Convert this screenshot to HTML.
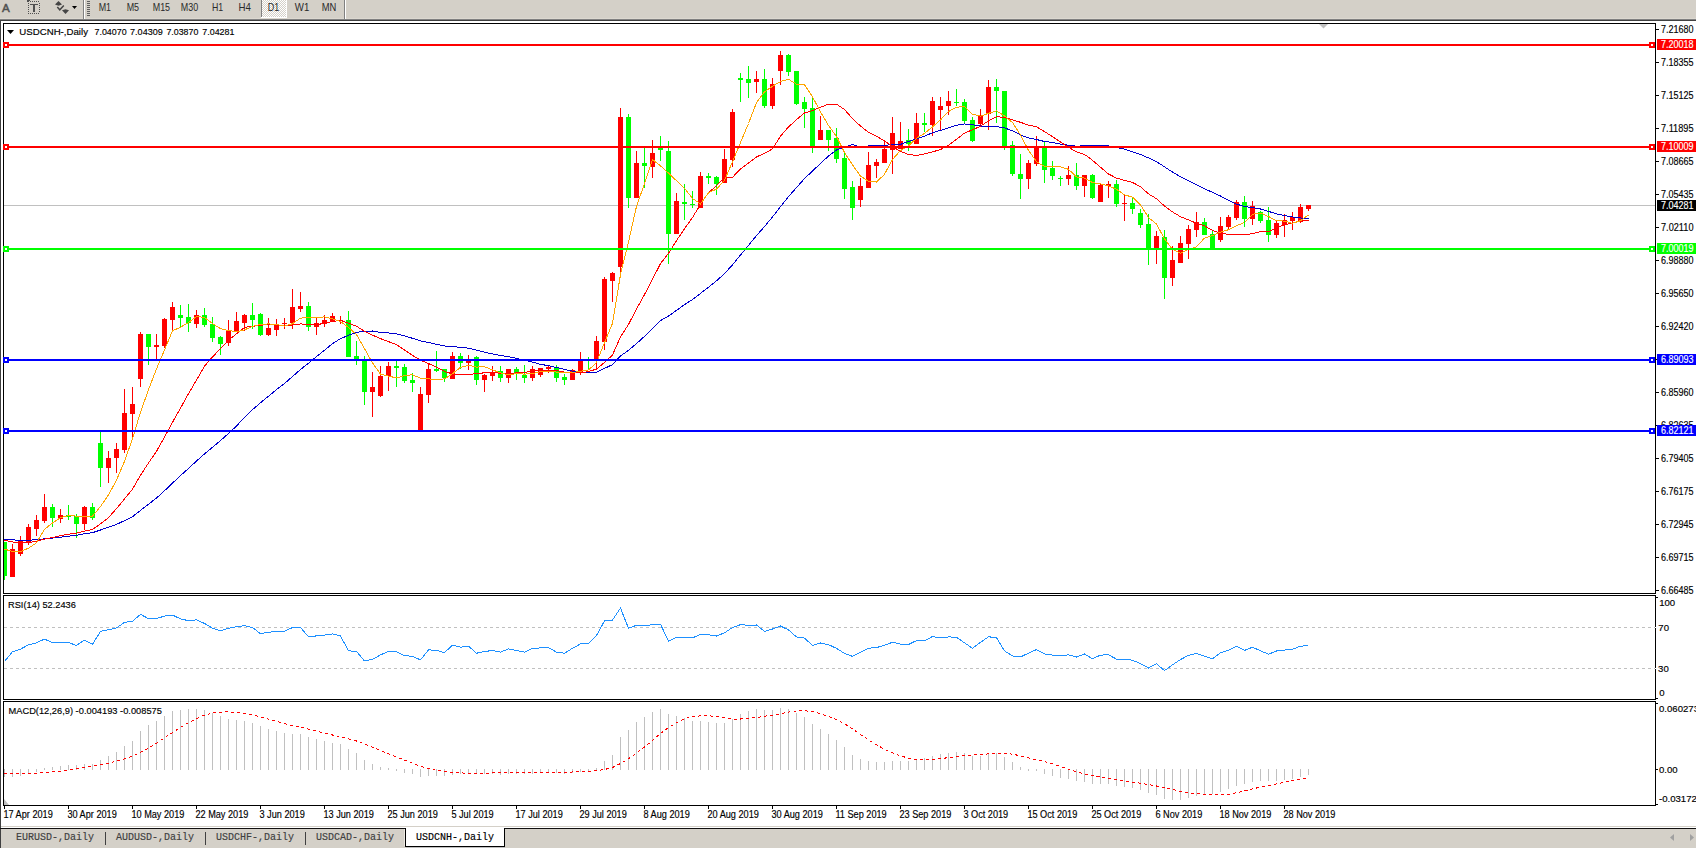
<!DOCTYPE html>
<html><head><meta charset="utf-8"><title>USDCNH Daily</title>
<style>html,body{margin:0;padding:0;background:#fff;width:1696px;height:848px;overflow:hidden}</style>
</head><body>
<svg width="1696" height="848" viewBox="0 0 1696 848" shape-rendering="crispEdges" style="display:block">
<rect x="0" y="0" width="1696" height="848" fill="#ffffff"/>
<rect x="0" y="0" width="1696" height="19" fill="#d4d0c8"/>
<rect x="0" y="18" width="1696" height="1" fill="#dcd8d0"/>
<rect x="0" y="19" width="1696" height="1" fill="#808080"/>
<rect x="0" y="20" width="1696" height="1" fill="#404040"/>
<rect x="0" y="20" width="1" height="809" fill="#404040"/>
<text x="2.1" y="12" font-family="Liberation Sans, sans-serif" font-size="11.6" fill="#505050" stroke="#505050" stroke-width="0.5">A</text>
<rect x="28" y="1" width="1" height="1" fill="#505050"/>
<rect x="28" y="13" width="1" height="1" fill="#505050"/>
<rect x="30" y="1" width="1" height="1" fill="#505050"/>
<rect x="30" y="13" width="1" height="1" fill="#505050"/>
<rect x="32" y="1" width="1" height="1" fill="#505050"/>
<rect x="32" y="13" width="1" height="1" fill="#505050"/>
<rect x="34" y="1" width="1" height="1" fill="#505050"/>
<rect x="34" y="13" width="1" height="1" fill="#505050"/>
<rect x="36" y="1" width="1" height="1" fill="#505050"/>
<rect x="36" y="13" width="1" height="1" fill="#505050"/>
<rect x="38" y="1" width="1" height="1" fill="#505050"/>
<rect x="38" y="13" width="1" height="1" fill="#505050"/>
<rect x="28" y="3" width="1" height="1" fill="#505050"/>
<rect x="39" y="3" width="1" height="1" fill="#505050"/>
<rect x="28" y="5" width="1" height="1" fill="#505050"/>
<rect x="39" y="5" width="1" height="1" fill="#505050"/>
<rect x="28" y="7" width="1" height="1" fill="#505050"/>
<rect x="39" y="7" width="1" height="1" fill="#505050"/>
<rect x="28" y="9" width="1" height="1" fill="#505050"/>
<rect x="39" y="9" width="1" height="1" fill="#505050"/>
<rect x="28" y="11" width="1" height="1" fill="#505050"/>
<rect x="39" y="11" width="1" height="1" fill="#505050"/>
<rect x="27" y="0" width="3" height="1" fill="#505050"/>
<rect x="27" y="0" width="1" height="2" fill="#505050"/>
<rect x="30" y="4" width="8" height="1" fill="#505050"/>
<rect x="30" y="5" width="8" height="0.3" fill="#505050"/>
<rect x="33" y="5" width="2" height="7" fill="#505050"/>
<path d="M55 4.5 L58.5 1 L62 4.5 L58.5 5.8 Z" fill="#454545" shape-rendering="geometricPrecision"/>
<path d="M57.3 7 L59.8 9.8 L63.8 5.6" stroke="#454545" stroke-width="1.5" fill="none" shape-rendering="geometricPrecision"/>
<path d="M62 10.3 L65.5 9.2 L69 10.3 L65.5 14 Z" fill="#454545" shape-rendering="geometricPrecision"/>
<path d="M72 6 L77 6 L74.5 9 Z" fill="#000" shape-rendering="geometricPrecision"/>
<rect x="83" y="0" width="1" height="19" fill="#808080"/>
<rect x="84" y="0" width="1" height="19" fill="#ffffff"/>
<rect x="87" y="1" width="3" height="1" fill="#606060"/>
<rect x="87" y="3" width="3" height="1" fill="#606060"/>
<rect x="87" y="5" width="3" height="1" fill="#606060"/>
<rect x="87" y="7" width="3" height="1" fill="#606060"/>
<rect x="87" y="9" width="3" height="1" fill="#606060"/>
<rect x="87" y="11" width="3" height="1" fill="#606060"/>
<rect x="87" y="13" width="3" height="1" fill="#606060"/>
<rect x="87" y="15" width="3" height="1" fill="#606060"/>
<defs><pattern id="dith" x="0" y="0" width="2" height="2" patternUnits="userSpaceOnUse"><rect x="0" y="0" width="2" height="2" fill="#d4d0c8"/><rect x="0" y="0" width="1" height="1" fill="#ffffff"/><rect x="1" y="1" width="1" height="1" fill="#ffffff"/></pattern></defs>
<rect x="261" y="0" width="26" height="17" fill="url(#dith)"/>
<rect x="261" y="0" width="1" height="17" fill="#808080"/>
<rect x="286" y="0" width="1" height="17" fill="#ffffff"/>
<rect x="261" y="17" width="26" height="1" fill="#ffffff"/>
<text x="98.7" y="11" font-family="Liberation Sans, sans-serif" font-size="10.4" fill="#2a2a2a" textLength="12.4" lengthAdjust="spacingAndGlyphs">M1</text>
<text x="126.7" y="11" font-family="Liberation Sans, sans-serif" font-size="10.4" fill="#2a2a2a" textLength="12.4" lengthAdjust="spacingAndGlyphs">M5</text>
<text x="152.7" y="11" font-family="Liberation Sans, sans-serif" font-size="10.4" fill="#2a2a2a" textLength="17.4" lengthAdjust="spacingAndGlyphs">M15</text>
<text x="180.8" y="11" font-family="Liberation Sans, sans-serif" font-size="10.4" fill="#2a2a2a" textLength="17.4" lengthAdjust="spacingAndGlyphs">M30</text>
<text x="211.9" y="11" font-family="Liberation Sans, sans-serif" font-size="10.4" fill="#2a2a2a" textLength="11.2" lengthAdjust="spacingAndGlyphs">H1</text>
<text x="238.6" y="11" font-family="Liberation Sans, sans-serif" font-size="10.4" fill="#2a2a2a" textLength="12.4" lengthAdjust="spacingAndGlyphs">H4</text>
<text x="267.7" y="11" font-family="Liberation Sans, sans-serif" font-size="10.4" fill="#2a2a2a" textLength="11.5" lengthAdjust="spacingAndGlyphs">D1</text>
<text x="294.8" y="11" font-family="Liberation Sans, sans-serif" font-size="10.4" fill="#2a2a2a" textLength="14.5" lengthAdjust="spacingAndGlyphs">W1</text>
<text x="321.8" y="11" font-family="Liberation Sans, sans-serif" font-size="10.4" fill="#2a2a2a" textLength="14.6" lengthAdjust="spacingAndGlyphs">MN</text>
<rect x="344" y="0" width="1" height="19" fill="#808080"/>
<rect x="345" y="0" width="1" height="19" fill="#ffffff"/>
<rect x="3" y="23" width="1653" height="1" fill="#000"/>
<rect x="3" y="593" width="1653" height="1" fill="#000"/>
<rect x="3" y="23" width="1" height="571" fill="#000"/>
<rect x="1655" y="23" width="1" height="571" fill="#000"/>
<rect x="3" y="595" width="1653" height="1" fill="#000"/>
<rect x="3" y="699" width="1653" height="1" fill="#000"/>
<rect x="3" y="595" width="1" height="105" fill="#000"/>
<rect x="1655" y="595" width="1" height="105" fill="#000"/>
<rect x="3" y="701" width="1653" height="1" fill="#000"/>
<rect x="3" y="805" width="1653" height="1" fill="#000"/>
<rect x="3" y="701" width="1" height="105" fill="#000"/>
<rect x="1655" y="701" width="1" height="105" fill="#000"/>
<defs><clipPath id="cm"><rect x="4" y="24" width="1651" height="569"/></clipPath><clipPath id="cr"><rect x="4" y="596" width="1651" height="103"/></clipPath><clipPath id="cd"><rect x="4" y="702" width="1651" height="103"/></clipPath></defs>
<g clip-path="url(#cm)">
<rect x="4" y="205" width="1651" height="1" fill="#c0c0c0"/>
<path d="M1319 24 L1328 24 L1323.5 28.5 Z" fill="#c0c0c0" shape-rendering="geometricPrecision"/>
<rect x="4" y="542" width="1" height="38" fill="#00ff00"/>
<rect x="2" y="542" width="5" height="34" fill="#00ff00"/>
<rect x="12" y="544" width="1" height="33" fill="#ff0000"/>
<rect x="10" y="549" width="5" height="28" fill="#ff0000"/>
<rect x="20" y="536" width="1" height="20" fill="#ff0000"/>
<rect x="18" y="541" width="5" height="13" fill="#ff0000"/>
<rect x="28" y="524" width="1" height="21" fill="#ff0000"/>
<rect x="26" y="527" width="5" height="15" fill="#ff0000"/>
<rect x="36" y="515" width="1" height="21" fill="#ff0000"/>
<rect x="34" y="520" width="5" height="9" fill="#ff0000"/>
<rect x="44" y="494" width="1" height="29" fill="#ff0000"/>
<rect x="42" y="507" width="5" height="14" fill="#ff0000"/>
<rect x="52" y="504" width="1" height="23" fill="#00ff00"/>
<rect x="50" y="507" width="5" height="11" fill="#00ff00"/>
<rect x="60" y="509" width="1" height="14" fill="#ff0000"/>
<rect x="58" y="515" width="5" height="4" fill="#ff0000"/>
<rect x="68" y="505" width="1" height="15" fill="#00ff00"/>
<rect x="66" y="515" width="5" height="2" fill="#00ff00"/>
<rect x="76" y="514" width="1" height="24" fill="#00ff00"/>
<rect x="74" y="516" width="5" height="8" fill="#00ff00"/>
<rect x="84" y="506" width="1" height="24" fill="#ff0000"/>
<rect x="82" y="507" width="5" height="17" fill="#ff0000"/>
<rect x="92" y="503" width="1" height="17" fill="#00ff00"/>
<rect x="90" y="507" width="5" height="11" fill="#00ff00"/>
<rect x="100" y="431" width="1" height="56" fill="#00ff00"/>
<rect x="98" y="443" width="5" height="25" fill="#00ff00"/>
<rect x="108" y="451" width="1" height="32" fill="#ff0000"/>
<rect x="106" y="458" width="5" height="10" fill="#ff0000"/>
<rect x="116" y="443" width="1" height="30" fill="#ff0000"/>
<rect x="114" y="449" width="5" height="9" fill="#ff0000"/>
<rect x="124" y="389" width="1" height="64" fill="#ff0000"/>
<rect x="122" y="413" width="5" height="37" fill="#ff0000"/>
<rect x="132" y="387" width="1" height="50" fill="#ff0000"/>
<rect x="130" y="404" width="5" height="10" fill="#ff0000"/>
<rect x="140" y="332" width="1" height="55" fill="#ff0000"/>
<rect x="138" y="334" width="5" height="45" fill="#ff0000"/>
<rect x="148" y="334" width="1" height="31" fill="#00ff00"/>
<rect x="146" y="334" width="5" height="13" fill="#00ff00"/>
<rect x="156" y="334" width="1" height="26" fill="#ff0000"/>
<rect x="154" y="345" width="5" height="2" fill="#ff0000"/>
<rect x="164" y="318" width="1" height="30" fill="#ff0000"/>
<rect x="162" y="319" width="5" height="27" fill="#ff0000"/>
<rect x="172" y="302" width="1" height="28" fill="#ff0000"/>
<rect x="170" y="307" width="5" height="13" fill="#ff0000"/>
<rect x="180" y="305" width="1" height="22" fill="#00ff00"/>
<rect x="178" y="315" width="5" height="3" fill="#00ff00"/>
<rect x="188" y="304" width="1" height="28" fill="#00ff00"/>
<rect x="186" y="317" width="5" height="6" fill="#00ff00"/>
<rect x="196" y="310" width="1" height="18" fill="#ff0000"/>
<rect x="194" y="315" width="5" height="9" fill="#ff0000"/>
<rect x="204" y="308" width="1" height="19" fill="#00ff00"/>
<rect x="202" y="315" width="5" height="10" fill="#00ff00"/>
<rect x="212" y="317" width="1" height="25" fill="#00ff00"/>
<rect x="210" y="324" width="5" height="14" fill="#00ff00"/>
<rect x="220" y="336" width="1" height="19" fill="#00ff00"/>
<rect x="218" y="337" width="5" height="7" fill="#00ff00"/>
<rect x="228" y="320" width="1" height="26" fill="#ff0000"/>
<rect x="226" y="331" width="5" height="12" fill="#ff0000"/>
<rect x="236" y="312" width="1" height="20" fill="#ff0000"/>
<rect x="234" y="321" width="5" height="10" fill="#ff0000"/>
<rect x="244" y="314" width="1" height="17" fill="#ff0000"/>
<rect x="242" y="315" width="5" height="8" fill="#ff0000"/>
<rect x="252" y="303" width="1" height="26" fill="#00ff00"/>
<rect x="250" y="315" width="5" height="5" fill="#00ff00"/>
<rect x="260" y="313" width="1" height="23" fill="#00ff00"/>
<rect x="258" y="314" width="5" height="21" fill="#00ff00"/>
<rect x="268" y="318" width="1" height="18" fill="#ff0000"/>
<rect x="266" y="328" width="5" height="7" fill="#ff0000"/>
<rect x="276" y="319" width="1" height="17" fill="#ff0000"/>
<rect x="274" y="324" width="5" height="6" fill="#ff0000"/>
<rect x="284" y="318" width="1" height="11" fill="#ff0000"/>
<rect x="282" y="323" width="5" height="1" fill="#ff0000"/>
<rect x="292" y="289" width="1" height="40" fill="#ff0000"/>
<rect x="290" y="307" width="5" height="16" fill="#ff0000"/>
<rect x="300" y="292" width="1" height="20" fill="#ff0000"/>
<rect x="298" y="306" width="5" height="3" fill="#ff0000"/>
<rect x="308" y="302" width="1" height="29" fill="#00ff00"/>
<rect x="306" y="306" width="5" height="21" fill="#00ff00"/>
<rect x="316" y="318" width="1" height="17" fill="#ff0000"/>
<rect x="314" y="323" width="5" height="4" fill="#ff0000"/>
<rect x="324" y="315" width="1" height="12" fill="#ff0000"/>
<rect x="322" y="320" width="5" height="4" fill="#ff0000"/>
<rect x="332" y="313" width="1" height="9" fill="#ff0000"/>
<rect x="330" y="316" width="5" height="5" fill="#ff0000"/>
<rect x="340" y="316" width="1" height="8" fill="#ff0000"/>
<rect x="338" y="320" width="5" height="1" fill="#ff0000"/>
<rect x="348" y="311" width="1" height="46" fill="#00ff00"/>
<rect x="346" y="320" width="5" height="37" fill="#00ff00"/>
<rect x="356" y="341" width="1" height="24" fill="#00ff00"/>
<rect x="354" y="356" width="5" height="3" fill="#00ff00"/>
<rect x="364" y="356" width="1" height="49" fill="#00ff00"/>
<rect x="362" y="360" width="5" height="32" fill="#00ff00"/>
<rect x="372" y="372" width="1" height="45" fill="#ff0000"/>
<rect x="370" y="387" width="5" height="5" fill="#ff0000"/>
<rect x="380" y="366" width="1" height="31" fill="#ff0000"/>
<rect x="378" y="376" width="5" height="20" fill="#ff0000"/>
<rect x="388" y="362" width="1" height="29" fill="#ff0000"/>
<rect x="386" y="366" width="5" height="10" fill="#ff0000"/>
<rect x="396" y="361" width="1" height="26" fill="#00ff00"/>
<rect x="394" y="366" width="5" height="2" fill="#00ff00"/>
<rect x="404" y="364" width="1" height="19" fill="#00ff00"/>
<rect x="402" y="367" width="5" height="14" fill="#00ff00"/>
<rect x="412" y="373" width="1" height="19" fill="#00ff00"/>
<rect x="410" y="380" width="5" height="3" fill="#00ff00"/>
<rect x="420" y="387" width="1" height="43" fill="#ff0000"/>
<rect x="418" y="394" width="5" height="36" fill="#ff0000"/>
<rect x="428" y="363" width="1" height="40" fill="#ff0000"/>
<rect x="426" y="369" width="5" height="26" fill="#ff0000"/>
<rect x="436" y="351" width="1" height="21" fill="#00ff00"/>
<rect x="434" y="369" width="5" height="2" fill="#00ff00"/>
<rect x="444" y="369" width="1" height="13" fill="#00ff00"/>
<rect x="442" y="369" width="5" height="9" fill="#00ff00"/>
<rect x="452" y="352" width="1" height="27" fill="#ff0000"/>
<rect x="450" y="356" width="5" height="23" fill="#ff0000"/>
<rect x="460" y="353" width="1" height="16" fill="#00ff00"/>
<rect x="458" y="356" width="5" height="7" fill="#00ff00"/>
<rect x="468" y="355" width="1" height="15" fill="#ff0000"/>
<rect x="466" y="359" width="5" height="4" fill="#ff0000"/>
<rect x="476" y="356" width="1" height="29" fill="#00ff00"/>
<rect x="474" y="357" width="5" height="23" fill="#00ff00"/>
<rect x="484" y="374" width="1" height="18" fill="#ff0000"/>
<rect x="482" y="375" width="5" height="5" fill="#ff0000"/>
<rect x="492" y="366" width="1" height="15" fill="#ff0000"/>
<rect x="490" y="372" width="5" height="4" fill="#ff0000"/>
<rect x="500" y="366" width="1" height="16" fill="#00ff00"/>
<rect x="498" y="371" width="5" height="7" fill="#00ff00"/>
<rect x="508" y="369" width="1" height="14" fill="#ff0000"/>
<rect x="506" y="369" width="5" height="9" fill="#ff0000"/>
<rect x="516" y="367" width="1" height="13" fill="#00ff00"/>
<rect x="514" y="369" width="5" height="5" fill="#00ff00"/>
<rect x="524" y="365" width="1" height="18" fill="#00ff00"/>
<rect x="522" y="375" width="5" height="3" fill="#00ff00"/>
<rect x="532" y="366" width="1" height="15" fill="#ff0000"/>
<rect x="530" y="369" width="5" height="9" fill="#ff0000"/>
<rect x="540" y="368" width="1" height="9" fill="#ff0000"/>
<rect x="538" y="368" width="5" height="7" fill="#ff0000"/>
<rect x="548" y="365" width="1" height="8" fill="#ff0000"/>
<rect x="546" y="367" width="5" height="2" fill="#ff0000"/>
<rect x="556" y="365" width="1" height="17" fill="#00ff00"/>
<rect x="554" y="368" width="5" height="10" fill="#00ff00"/>
<rect x="564" y="374" width="1" height="11" fill="#00ff00"/>
<rect x="562" y="377" width="5" height="3" fill="#00ff00"/>
<rect x="572" y="369" width="1" height="11" fill="#ff0000"/>
<rect x="570" y="370" width="5" height="10" fill="#ff0000"/>
<rect x="580" y="352" width="1" height="23" fill="#ff0000"/>
<rect x="578" y="361" width="5" height="11" fill="#ff0000"/>
<rect x="588" y="357" width="1" height="12" fill="#00ff00"/>
<rect x="586" y="359" width="5" height="2" fill="#00ff00"/>
<rect x="596" y="336" width="1" height="32" fill="#ff0000"/>
<rect x="594" y="341" width="5" height="20" fill="#ff0000"/>
<rect x="604" y="277" width="1" height="73" fill="#ff0000"/>
<rect x="602" y="279" width="5" height="63" fill="#ff0000"/>
<rect x="612" y="272" width="1" height="30" fill="#ff0000"/>
<rect x="610" y="273" width="5" height="8" fill="#ff0000"/>
<rect x="620" y="108" width="1" height="164" fill="#ff0000"/>
<rect x="618" y="117" width="5" height="150" fill="#ff0000"/>
<rect x="628" y="114" width="1" height="94" fill="#00ff00"/>
<rect x="626" y="117" width="5" height="81" fill="#00ff00"/>
<rect x="636" y="151" width="1" height="47" fill="#ff0000"/>
<rect x="634" y="163" width="5" height="35" fill="#ff0000"/>
<rect x="644" y="148" width="1" height="40" fill="#00ff00"/>
<rect x="642" y="163" width="5" height="3" fill="#00ff00"/>
<rect x="652" y="140" width="1" height="38" fill="#ff0000"/>
<rect x="650" y="153" width="5" height="14" fill="#ff0000"/>
<rect x="660" y="136" width="1" height="25" fill="#00ff00"/>
<rect x="658" y="148" width="5" height="2" fill="#00ff00"/>
<rect x="668" y="141" width="1" height="123" fill="#00ff00"/>
<rect x="666" y="151" width="5" height="83" fill="#00ff00"/>
<rect x="676" y="193" width="1" height="41" fill="#ff0000"/>
<rect x="674" y="201" width="5" height="33" fill="#ff0000"/>
<rect x="684" y="184" width="1" height="36" fill="#00ff00"/>
<rect x="682" y="202" width="5" height="2" fill="#00ff00"/>
<rect x="692" y="191" width="1" height="17" fill="#00ff00"/>
<rect x="690" y="204" width="5" height="1" fill="#00ff00"/>
<rect x="700" y="172" width="1" height="36" fill="#ff0000"/>
<rect x="698" y="176" width="5" height="32" fill="#ff0000"/>
<rect x="708" y="173" width="1" height="11" fill="#00ff00"/>
<rect x="706" y="176" width="5" height="2" fill="#00ff00"/>
<rect x="716" y="176" width="1" height="19" fill="#00ff00"/>
<rect x="714" y="177" width="5" height="7" fill="#00ff00"/>
<rect x="724" y="149" width="1" height="34" fill="#ff0000"/>
<rect x="722" y="159" width="5" height="24" fill="#ff0000"/>
<rect x="732" y="109" width="1" height="58" fill="#ff0000"/>
<rect x="730" y="112" width="5" height="48" fill="#ff0000"/>
<rect x="740" y="73" width="1" height="29" fill="#00ff00"/>
<rect x="738" y="78" width="5" height="2" fill="#00ff00"/>
<rect x="748" y="66" width="1" height="32" fill="#00ff00"/>
<rect x="746" y="79" width="5" height="4" fill="#00ff00"/>
<rect x="756" y="71" width="1" height="22" fill="#ff0000"/>
<rect x="754" y="79" width="5" height="3" fill="#ff0000"/>
<rect x="764" y="69" width="1" height="39" fill="#00ff00"/>
<rect x="762" y="79" width="5" height="27" fill="#00ff00"/>
<rect x="772" y="78" width="1" height="31" fill="#ff0000"/>
<rect x="770" y="84" width="5" height="22" fill="#ff0000"/>
<rect x="780" y="51" width="1" height="34" fill="#ff0000"/>
<rect x="778" y="55" width="5" height="16" fill="#ff0000"/>
<rect x="788" y="54" width="1" height="22" fill="#00ff00"/>
<rect x="786" y="55" width="5" height="17" fill="#00ff00"/>
<rect x="796" y="71" width="1" height="34" fill="#00ff00"/>
<rect x="794" y="71" width="5" height="33" fill="#00ff00"/>
<rect x="804" y="97" width="1" height="31" fill="#00ff00"/>
<rect x="802" y="102" width="5" height="7" fill="#00ff00"/>
<rect x="812" y="98" width="1" height="55" fill="#00ff00"/>
<rect x="810" y="108" width="5" height="38" fill="#00ff00"/>
<rect x="820" y="116" width="1" height="24" fill="#ff0000"/>
<rect x="818" y="130" width="5" height="10" fill="#ff0000"/>
<rect x="828" y="130" width="1" height="21" fill="#00ff00"/>
<rect x="826" y="130" width="5" height="10" fill="#00ff00"/>
<rect x="836" y="128" width="1" height="35" fill="#00ff00"/>
<rect x="834" y="138" width="5" height="21" fill="#00ff00"/>
<rect x="844" y="153" width="1" height="46" fill="#00ff00"/>
<rect x="842" y="158" width="5" height="31" fill="#00ff00"/>
<rect x="852" y="181" width="1" height="39" fill="#00ff00"/>
<rect x="850" y="187" width="5" height="21" fill="#00ff00"/>
<rect x="860" y="178" width="1" height="29" fill="#ff0000"/>
<rect x="858" y="186" width="5" height="14" fill="#ff0000"/>
<rect x="868" y="152" width="1" height="36" fill="#ff0000"/>
<rect x="866" y="165" width="5" height="23" fill="#ff0000"/>
<rect x="876" y="159" width="1" height="19" fill="#ff0000"/>
<rect x="874" y="162" width="5" height="4" fill="#ff0000"/>
<rect x="884" y="142" width="1" height="21" fill="#ff0000"/>
<rect x="882" y="149" width="5" height="14" fill="#ff0000"/>
<rect x="892" y="117" width="1" height="57" fill="#ff0000"/>
<rect x="890" y="133" width="5" height="17" fill="#ff0000"/>
<rect x="900" y="122" width="1" height="27" fill="#ff0000"/>
<rect x="898" y="141" width="5" height="8" fill="#ff0000"/>
<rect x="908" y="129" width="1" height="22" fill="#00ff00"/>
<rect x="906" y="140" width="5" height="4" fill="#00ff00"/>
<rect x="916" y="113" width="1" height="31" fill="#ff0000"/>
<rect x="914" y="123" width="5" height="21" fill="#ff0000"/>
<rect x="924" y="113" width="1" height="19" fill="#00ff00"/>
<rect x="922" y="123" width="5" height="2" fill="#00ff00"/>
<rect x="932" y="97" width="1" height="39" fill="#ff0000"/>
<rect x="930" y="101" width="5" height="24" fill="#ff0000"/>
<rect x="940" y="97" width="1" height="33" fill="#ff0000"/>
<rect x="938" y="106" width="5" height="4" fill="#ff0000"/>
<rect x="948" y="91" width="1" height="24" fill="#ff0000"/>
<rect x="946" y="101" width="5" height="5" fill="#ff0000"/>
<rect x="956" y="89" width="1" height="17" fill="#00ff00"/>
<rect x="954" y="102" width="5" height="1" fill="#00ff00"/>
<rect x="964" y="99" width="1" height="24" fill="#00ff00"/>
<rect x="962" y="102" width="5" height="19" fill="#00ff00"/>
<rect x="972" y="117" width="1" height="25" fill="#00ff00"/>
<rect x="970" y="120" width="5" height="21" fill="#00ff00"/>
<rect x="980" y="109" width="1" height="16" fill="#ff0000"/>
<rect x="978" y="115" width="5" height="9" fill="#ff0000"/>
<rect x="988" y="80" width="1" height="50" fill="#ff0000"/>
<rect x="986" y="87" width="5" height="27" fill="#ff0000"/>
<rect x="996" y="79" width="1" height="44" fill="#00ff00"/>
<rect x="994" y="87" width="5" height="4" fill="#00ff00"/>
<rect x="1004" y="91" width="1" height="59" fill="#00ff00"/>
<rect x="1002" y="91" width="5" height="55" fill="#00ff00"/>
<rect x="1012" y="141" width="1" height="35" fill="#00ff00"/>
<rect x="1010" y="145" width="5" height="29" fill="#00ff00"/>
<rect x="1020" y="154" width="1" height="45" fill="#00ff00"/>
<rect x="1018" y="174" width="5" height="5" fill="#00ff00"/>
<rect x="1028" y="160" width="1" height="29" fill="#ff0000"/>
<rect x="1026" y="163" width="5" height="16" fill="#ff0000"/>
<rect x="1036" y="136" width="1" height="30" fill="#ff0000"/>
<rect x="1034" y="147" width="5" height="17" fill="#ff0000"/>
<rect x="1044" y="142" width="1" height="41" fill="#00ff00"/>
<rect x="1042" y="147" width="5" height="23" fill="#00ff00"/>
<rect x="1052" y="161" width="1" height="19" fill="#00ff00"/>
<rect x="1050" y="168" width="5" height="8" fill="#00ff00"/>
<rect x="1060" y="176" width="1" height="10" fill="#00ff00"/>
<rect x="1058" y="178" width="5" height="1" fill="#00ff00"/>
<rect x="1068" y="166" width="1" height="19" fill="#ff0000"/>
<rect x="1066" y="175" width="5" height="4" fill="#ff0000"/>
<rect x="1076" y="163" width="1" height="27" fill="#00ff00"/>
<rect x="1074" y="175" width="5" height="11" fill="#00ff00"/>
<rect x="1084" y="175" width="1" height="22" fill="#ff0000"/>
<rect x="1082" y="175" width="5" height="11" fill="#ff0000"/>
<rect x="1092" y="174" width="1" height="25" fill="#00ff00"/>
<rect x="1090" y="175" width="5" height="23" fill="#00ff00"/>
<rect x="1100" y="184" width="1" height="18" fill="#ff0000"/>
<rect x="1098" y="185" width="5" height="17" fill="#ff0000"/>
<rect x="1108" y="181" width="1" height="17" fill="#ff0000"/>
<rect x="1106" y="184" width="5" height="2" fill="#ff0000"/>
<rect x="1116" y="180" width="1" height="27" fill="#00ff00"/>
<rect x="1114" y="184" width="5" height="20" fill="#00ff00"/>
<rect x="1124" y="195" width="1" height="26" fill="#ff0000"/>
<rect x="1122" y="203" width="5" height="1" fill="#ff0000"/>
<rect x="1132" y="198" width="1" height="16" fill="#00ff00"/>
<rect x="1130" y="203" width="5" height="6" fill="#00ff00"/>
<rect x="1140" y="209" width="1" height="19" fill="#00ff00"/>
<rect x="1138" y="213" width="5" height="12" fill="#00ff00"/>
<rect x="1148" y="214" width="1" height="51" fill="#00ff00"/>
<rect x="1146" y="224" width="5" height="24" fill="#00ff00"/>
<rect x="1156" y="231" width="1" height="33" fill="#ff0000"/>
<rect x="1154" y="236" width="5" height="12" fill="#ff0000"/>
<rect x="1164" y="230" width="1" height="69" fill="#00ff00"/>
<rect x="1162" y="237" width="5" height="41" fill="#00ff00"/>
<rect x="1172" y="246" width="1" height="40" fill="#ff0000"/>
<rect x="1170" y="260" width="5" height="18" fill="#ff0000"/>
<rect x="1180" y="236" width="1" height="27" fill="#ff0000"/>
<rect x="1178" y="243" width="5" height="20" fill="#ff0000"/>
<rect x="1188" y="225" width="1" height="34" fill="#ff0000"/>
<rect x="1186" y="229" width="5" height="15" fill="#ff0000"/>
<rect x="1196" y="212" width="1" height="25" fill="#ff0000"/>
<rect x="1194" y="222" width="5" height="8" fill="#ff0000"/>
<rect x="1204" y="218" width="1" height="17" fill="#00ff00"/>
<rect x="1202" y="222" width="5" height="13" fill="#00ff00"/>
<rect x="1212" y="231" width="1" height="17" fill="#00ff00"/>
<rect x="1210" y="234" width="5" height="14" fill="#00ff00"/>
<rect x="1220" y="217" width="1" height="25" fill="#ff0000"/>
<rect x="1218" y="226" width="5" height="14" fill="#ff0000"/>
<rect x="1228" y="215" width="1" height="15" fill="#ff0000"/>
<rect x="1226" y="217" width="5" height="10" fill="#ff0000"/>
<rect x="1236" y="200" width="1" height="20" fill="#ff0000"/>
<rect x="1234" y="202" width="5" height="16" fill="#ff0000"/>
<rect x="1244" y="196" width="1" height="31" fill="#00ff00"/>
<rect x="1242" y="202" width="5" height="17" fill="#00ff00"/>
<rect x="1252" y="201" width="1" height="24" fill="#ff0000"/>
<rect x="1250" y="206" width="5" height="13" fill="#ff0000"/>
<rect x="1260" y="211" width="1" height="12" fill="#00ff00"/>
<rect x="1258" y="212" width="5" height="9" fill="#00ff00"/>
<rect x="1268" y="207" width="1" height="35" fill="#00ff00"/>
<rect x="1266" y="220" width="5" height="15" fill="#00ff00"/>
<rect x="1276" y="221" width="1" height="17" fill="#ff0000"/>
<rect x="1274" y="223" width="5" height="12" fill="#ff0000"/>
<rect x="1284" y="214" width="1" height="23" fill="#ff0000"/>
<rect x="1282" y="220" width="5" height="5" fill="#ff0000"/>
<rect x="1292" y="212" width="1" height="18" fill="#ff0000"/>
<rect x="1290" y="217" width="5" height="4" fill="#ff0000"/>
<rect x="1300" y="204" width="1" height="19" fill="#ff0000"/>
<rect x="1298" y="207" width="5" height="15" fill="#ff0000"/>
<rect x="1308" y="205" width="1" height="6" fill="#ff0000"/>
<rect x="1306" y="205" width="5" height="4" fill="#ff0000"/>
<polyline points="4.5,539.2 12.5,539.9 20.5,540.3 28.5,540.2 36.5,539.8 44.5,538.8 52.5,538.1 60.5,537.2 68.5,536.2 76.5,535.3 84.5,533.8 92.5,532.7 100.5,530.0 108.5,527.2 116.5,524.4 124.5,520.6 132.5,516.7 140.5,510.4 148.5,504.3 156.5,498.0 164.5,490.8 172.5,483.1 180.5,475.6 188.5,468.4 196.5,461.0 204.5,453.9 212.5,447.2 220.5,440.6 228.5,433.5 236.5,426.0 244.5,417.4 252.5,409.7 260.5,402.8 268.5,396.2 276.5,389.6 284.5,383.5 292.5,376.5 300.5,369.5 308.5,363.2 316.5,356.5 324.5,350.3 332.5,343.6 340.5,338.7 348.5,335.3 356.5,332.3 364.5,331.5 372.5,331.0 380.5,332.4 388.5,333.0 396.5,333.8 404.5,335.8 412.5,338.3 420.5,340.9 428.5,342.4 436.5,344.3 444.5,346.0 452.5,346.7 460.5,347.3 468.5,348.2 476.5,350.2 484.5,352.2 492.5,353.9 500.5,355.4 508.5,356.7 516.5,358.4 524.5,360.2 532.5,362.2 540.5,364.3 548.5,365.7 556.5,367.5 564.5,369.4 572.5,371.2 580.5,372.6 588.5,372.7 596.5,372.2 604.5,368.4 612.5,364.6 620.5,356.0 628.5,350.4 636.5,343.6 644.5,336.4 652.5,328.8 660.5,320.6 668.5,316.1 676.5,310.4 684.5,304.6 692.5,299.6 700.5,293.4 708.5,287.3 716.5,280.8 724.5,273.6 732.5,264.9 740.5,255.0 748.5,245.4 756.5,235.6 764.5,226.5 772.5,217.0 780.5,206.6 788.5,196.7 796.5,187.6 804.5,178.6 812.5,171.1 820.5,163.4 828.5,156.0 836.5,149.9 844.5,146.9 852.5,144.7 860.5,147.0 868.5,145.9 876.5,145.9 884.5,145.3 892.5,144.7 900.5,144.4 908.5,141.4 916.5,138.8 924.5,136.2 932.5,132.7 940.5,130.4 948.5,127.9 956.5,125.2 964.5,123.9 972.5,124.8 980.5,126.0 988.5,126.2 996.5,126.5 1004.5,127.9 1012.5,130.8 1020.5,134.9 1028.5,138.0 1036.5,139.5 1044.5,141.5 1052.5,142.5 1060.5,144.1 1068.5,145.3 1076.5,146.2 1084.5,145.8 1092.5,145.4 1100.5,145.4 1108.5,146.0 1116.5,147.4 1124.5,149.2 1132.5,151.7 1140.5,154.5 1148.5,157.9 1156.5,161.7 1164.5,166.8 1172.5,172.1 1180.5,176.7 1188.5,180.9 1196.5,184.9 1204.5,188.7 1212.5,192.3 1220.5,196.0 1228.5,200.3 1236.5,204.1 1244.5,206.5 1252.5,207.6 1260.5,209.0 1268.5,211.4 1276.5,213.9 1284.5,215.6 1292.5,217.0 1300.5,218.0 1308.5,219.0" fill="none" stroke="#0000cd" stroke-width="1" shape-rendering="crispEdges"/>
<polyline points="4.5,540.1 12.5,542.0 20.5,542.9 28.5,542.5 36.5,541.3 44.5,539.1 52.5,537.5 60.5,535.7 68.5,534.2 76.5,533.2 84.5,531.1 92.5,529.4 100.5,523.9 108.5,517.6 116.5,508.6 124.5,498.9 132.5,489.1 140.5,475.3 148.5,462.9 156.5,451.3 164.5,437.1 172.5,422.3 180.5,408.1 188.5,393.7 196.5,380.0 204.5,366.2 212.5,356.9 220.5,348.7 228.5,340.3 236.5,333.7 244.5,327.4 252.5,326.3 260.5,325.4 268.5,324.2 276.5,324.6 284.5,325.7 292.5,325.0 300.5,323.9 308.5,324.6 316.5,324.6 324.5,323.4 332.5,321.4 340.5,320.6 348.5,323.1 356.5,326.2 364.5,331.4 372.5,335.1 380.5,338.6 388.5,341.6 396.5,344.7 404.5,349.9 412.5,355.4 420.5,360.2 428.5,363.5 436.5,367.1 444.5,371.4 452.5,374.0 460.5,374.4 468.5,374.5 476.5,373.6 484.5,372.8 492.5,372.5 500.5,373.3 508.5,373.4 516.5,372.9 524.5,372.6 532.5,370.8 540.5,370.7 548.5,370.5 556.5,370.5 564.5,372.1 572.5,372.7 580.5,372.9 588.5,371.5 596.5,369.1 604.5,362.4 612.5,355.0 620.5,337.0 628.5,324.4 636.5,309.1 644.5,294.6 652.5,279.2 660.5,263.6 668.5,253.4 676.5,240.6 684.5,228.7 692.5,217.5 700.5,204.4 708.5,192.6 716.5,185.8 724.5,177.6 732.5,177.3 740.5,168.9 748.5,163.1 756.5,156.9 764.5,153.5 772.5,148.9 780.5,136.1 788.5,126.9 796.5,119.7 804.5,112.9 812.5,110.6 820.5,107.3 828.5,104.1 836.5,104.1 844.5,109.5 852.5,118.6 860.5,126.1 868.5,132.2 876.5,136.3 884.5,140.9 892.5,146.5 900.5,151.5 908.5,154.4 916.5,155.4 924.5,153.9 932.5,151.9 940.5,149.5 948.5,145.4 956.5,139.3 964.5,133.1 972.5,129.8 980.5,126.2 988.5,120.9 996.5,116.6 1004.5,117.5 1012.5,119.8 1020.5,122.3 1028.5,125.1 1036.5,126.8 1044.5,131.6 1052.5,136.6 1060.5,142.1 1068.5,147.3 1076.5,151.9 1084.5,154.4 1092.5,160.3 1100.5,167.3 1108.5,174.0 1116.5,178.1 1124.5,180.3 1132.5,182.4 1140.5,186.8 1148.5,193.9 1156.5,198.7 1164.5,206.0 1172.5,211.9 1180.5,216.7 1188.5,219.9 1196.5,223.2 1204.5,225.9 1212.5,230.3 1220.5,233.3 1228.5,234.3 1236.5,234.2 1244.5,234.9 1252.5,233.6 1260.5,231.7 1268.5,231.6 1276.5,227.7 1284.5,224.9 1292.5,223.0 1300.5,221.4 1308.5,220.2" fill="none" stroke="#ff0000" stroke-width="1" shape-rendering="crispEdges"/>
<polyline points="4.5,549.1 12.5,551.5 20.5,551.6 28.5,548.2 36.5,542.9 44.5,529.3 52.5,522.9 60.5,517.7 68.5,515.5 76.5,516.1 84.5,516.1 92.5,516.1 100.5,506.5 108.5,494.9 116.5,480.1 124.5,461.3 132.5,438.7 140.5,412.1 148.5,389.7 156.5,368.9 164.5,350.1 172.5,330.7 180.5,327.3 188.5,322.5 196.5,316.5 204.5,317.5 212.5,323.5 220.5,328.7 228.5,330.5 236.5,331.7 244.5,329.9 252.5,326.3 260.5,324.5 268.5,323.9 276.5,324.5 284.5,326.1 292.5,323.7 300.5,318.1 308.5,317.7 316.5,317.5 324.5,316.9 332.5,318.7 340.5,321.5 348.5,327.5 356.5,334.5 364.5,348.7 372.5,362.9 380.5,374.1 388.5,376.1 396.5,377.9 404.5,375.7 412.5,374.7 420.5,378.3 428.5,378.9 436.5,379.5 444.5,378.9 452.5,373.7 460.5,367.3 468.5,365.3 476.5,367.1 484.5,366.7 492.5,369.9 500.5,372.9 508.5,374.9 516.5,373.7 524.5,374.1 532.5,373.5 540.5,371.7 548.5,371.3 556.5,372.1 564.5,372.5 572.5,372.7 580.5,371.3 588.5,369.9 596.5,362.7 604.5,342.7 612.5,323.3 620.5,274.5 628.5,241.9 636.5,206.3 644.5,183.5 652.5,159.5 660.5,165.9 668.5,173.1 676.5,180.7 684.5,188.3 692.5,198.5 700.5,203.9 708.5,192.7 716.5,189.1 724.5,180.3 732.5,161.9 740.5,142.5 748.5,123.5 756.5,102.7 764.5,91.9 772.5,86.3 780.5,81.5 788.5,79.3 796.5,84.1 804.5,84.7 812.5,96.9 820.5,111.9 828.5,125.5 836.5,136.5 844.5,152.5 852.5,164.9 860.5,176.1 868.5,181.3 876.5,182.1 884.5,174.3 892.5,159.5 900.5,150.5 908.5,146.1 916.5,138.3 924.5,133.3 932.5,126.9 940.5,119.9 948.5,111.5 956.5,107.3 964.5,106.5 972.5,114.3 980.5,116.1 988.5,113.3 996.5,110.9 1004.5,115.9 1012.5,122.5 1020.5,135.1 1028.5,150.3 1036.5,161.7 1044.5,166.5 1052.5,166.9 1060.5,166.9 1068.5,169.3 1076.5,176.9 1084.5,178.1 1092.5,182.5 1100.5,183.9 1108.5,185.7 1116.5,189.3 1124.5,194.9 1132.5,197.1 1140.5,204.9 1148.5,217.5 1156.5,224.1 1164.5,238.9 1172.5,249.3 1180.5,253.1 1188.5,249.5 1196.5,246.7 1204.5,238.1 1212.5,235.5 1220.5,232.1 1228.5,229.7 1236.5,225.7 1244.5,222.5 1252.5,214.3 1260.5,213.1 1268.5,216.5 1276.5,220.7 1284.5,221.1 1292.5,223.3 1300.5,220.7 1308.5,214.9" fill="none" stroke="#ffa500" stroke-width="1" shape-rendering="crispEdges"/>
<rect x="4" y="44" width="1651" height="2" fill="#ff0000"/>
<rect x="4" y="146" width="1651" height="2" fill="#ff0000"/>
<rect x="4" y="248" width="1651" height="2" fill="#00ff00"/>
<rect x="4" y="359" width="1651" height="2" fill="#0000ff"/>
<rect x="4" y="430" width="1651" height="2" fill="#0000ff"/>
<rect x="3" y="42" width="6" height="6" fill="#ff0000"/>
<rect x="5" y="44" width="2" height="2" fill="#ffffff"/>
<rect x="1649" y="42" width="6" height="6" fill="#ff0000"/>
<rect x="1651" y="44" width="2" height="2" fill="#ffffff"/>
<rect x="3" y="144" width="6" height="6" fill="#ff0000"/>
<rect x="5" y="146" width="2" height="2" fill="#ffffff"/>
<rect x="1649" y="144" width="6" height="6" fill="#ff0000"/>
<rect x="1651" y="146" width="2" height="2" fill="#ffffff"/>
<rect x="3" y="246" width="6" height="6" fill="#00ff00"/>
<rect x="5" y="248" width="2" height="2" fill="#ffffff"/>
<rect x="1649" y="246" width="6" height="6" fill="#00ff00"/>
<rect x="1651" y="248" width="2" height="2" fill="#ffffff"/>
<rect x="3" y="357" width="6" height="6" fill="#0000ff"/>
<rect x="5" y="359" width="2" height="2" fill="#ffffff"/>
<rect x="1649" y="357" width="6" height="6" fill="#0000ff"/>
<rect x="1651" y="359" width="2" height="2" fill="#ffffff"/>
<rect x="3" y="428" width="6" height="6" fill="#0000ff"/>
<rect x="5" y="430" width="2" height="2" fill="#ffffff"/>
<rect x="1649" y="428" width="6" height="6" fill="#0000ff"/>
<rect x="1651" y="430" width="2" height="2" fill="#ffffff"/>
</g>
<rect x="3" y="42" width="6" height="6" fill="#ff0000"/>
<rect x="5" y="44" width="2" height="2" fill="#ffffff"/>
<rect x="1649" y="42" width="6" height="6" fill="#ff0000"/>
<rect x="1651" y="44" width="2" height="2" fill="#ffffff"/>
<rect x="3" y="144" width="6" height="6" fill="#ff0000"/>
<rect x="5" y="146" width="2" height="2" fill="#ffffff"/>
<rect x="1649" y="144" width="6" height="6" fill="#ff0000"/>
<rect x="1651" y="146" width="2" height="2" fill="#ffffff"/>
<rect x="3" y="246" width="6" height="6" fill="#00ff00"/>
<rect x="5" y="248" width="2" height="2" fill="#ffffff"/>
<rect x="1649" y="246" width="6" height="6" fill="#00ff00"/>
<rect x="1651" y="248" width="2" height="2" fill="#ffffff"/>
<rect x="3" y="357" width="6" height="6" fill="#0000ff"/>
<rect x="5" y="359" width="2" height="2" fill="#ffffff"/>
<rect x="1649" y="357" width="6" height="6" fill="#0000ff"/>
<rect x="1651" y="359" width="2" height="2" fill="#ffffff"/>
<rect x="3" y="428" width="6" height="6" fill="#0000ff"/>
<rect x="5" y="430" width="2" height="2" fill="#ffffff"/>
<rect x="1649" y="428" width="6" height="6" fill="#0000ff"/>
<rect x="1651" y="430" width="2" height="2" fill="#ffffff"/>
<path d="M7 30 L14 30 L10.5 34 Z" fill="#000" shape-rendering="geometricPrecision"/>
<text x="19.3" y="35" font-family="Liberation Sans, sans-serif" font-size="9.6" fill="#000" stroke="#000" stroke-width="0.15" textLength="68.7" lengthAdjust="spacingAndGlyphs">USDCNH-,Daily</text>
<text x="94.5" y="35" font-family="Liberation Sans, sans-serif" font-size="9.6" fill="#000" stroke="#000" stroke-width="0.15" textLength="32.1" lengthAdjust="spacingAndGlyphs">7.04070</text>
<text x="130.1" y="35" font-family="Liberation Sans, sans-serif" font-size="9.6" fill="#000" stroke="#000" stroke-width="0.15" textLength="32.6" lengthAdjust="spacingAndGlyphs">7.04309</text>
<text x="166.4" y="35" font-family="Liberation Sans, sans-serif" font-size="9.6" fill="#000" stroke="#000" stroke-width="0.15" textLength="31.9" lengthAdjust="spacingAndGlyphs">7.03870</text>
<text x="202.3" y="35" font-family="Liberation Sans, sans-serif" font-size="9.6" fill="#000" stroke="#000" stroke-width="0.15" textLength="32.1" lengthAdjust="spacingAndGlyphs">7.04281</text>
<rect x="1656" y="29" width="3" height="1" fill="#000"/>
<text x="1661" y="32.7" font-family="Liberation Sans, sans-serif" font-size="10.2" fill="#000" stroke="#000" stroke-width="0.15" textLength="32.5" lengthAdjust="spacingAndGlyphs">7.21680</text>
<rect x="1656" y="62" width="3" height="1" fill="#000"/>
<text x="1661" y="65.7" font-family="Liberation Sans, sans-serif" font-size="10.2" fill="#000" stroke="#000" stroke-width="0.15" textLength="32.5" lengthAdjust="spacingAndGlyphs">7.18355</text>
<rect x="1656" y="95" width="3" height="1" fill="#000"/>
<text x="1661" y="98.7" font-family="Liberation Sans, sans-serif" font-size="10.2" fill="#000" stroke="#000" stroke-width="0.15" textLength="32.5" lengthAdjust="spacingAndGlyphs">7.15125</text>
<rect x="1656" y="128" width="3" height="1" fill="#000"/>
<text x="1661" y="131.7" font-family="Liberation Sans, sans-serif" font-size="10.2" fill="#000" stroke="#000" stroke-width="0.15" textLength="32.5" lengthAdjust="spacingAndGlyphs">7.11895</text>
<rect x="1656" y="161" width="3" height="1" fill="#000"/>
<text x="1661" y="164.7" font-family="Liberation Sans, sans-serif" font-size="10.2" fill="#000" stroke="#000" stroke-width="0.15" textLength="32.5" lengthAdjust="spacingAndGlyphs">7.08665</text>
<rect x="1656" y="194" width="3" height="1" fill="#000"/>
<text x="1661" y="197.7" font-family="Liberation Sans, sans-serif" font-size="10.2" fill="#000" stroke="#000" stroke-width="0.15" textLength="32.5" lengthAdjust="spacingAndGlyphs">7.05435</text>
<rect x="1656" y="227" width="3" height="1" fill="#000"/>
<text x="1661" y="230.7" font-family="Liberation Sans, sans-serif" font-size="10.2" fill="#000" stroke="#000" stroke-width="0.15" textLength="32.5" lengthAdjust="spacingAndGlyphs">7.02110</text>
<rect x="1656" y="260" width="3" height="1" fill="#000"/>
<text x="1661" y="263.7" font-family="Liberation Sans, sans-serif" font-size="10.2" fill="#000" stroke="#000" stroke-width="0.15" textLength="32.5" lengthAdjust="spacingAndGlyphs">6.98880</text>
<rect x="1656" y="293" width="3" height="1" fill="#000"/>
<text x="1661" y="296.7" font-family="Liberation Sans, sans-serif" font-size="10.2" fill="#000" stroke="#000" stroke-width="0.15" textLength="32.5" lengthAdjust="spacingAndGlyphs">6.95650</text>
<rect x="1656" y="326" width="3" height="1" fill="#000"/>
<text x="1661" y="329.7" font-family="Liberation Sans, sans-serif" font-size="10.2" fill="#000" stroke="#000" stroke-width="0.15" textLength="32.5" lengthAdjust="spacingAndGlyphs">6.92420</text>
<rect x="1656" y="359" width="3" height="1" fill="#000"/>
<text x="1661" y="362.7" font-family="Liberation Sans, sans-serif" font-size="10.2" fill="#000" stroke="#000" stroke-width="0.15" textLength="32.5" lengthAdjust="spacingAndGlyphs">6.89190</text>
<rect x="1656" y="392" width="3" height="1" fill="#000"/>
<text x="1661" y="395.7" font-family="Liberation Sans, sans-serif" font-size="10.2" fill="#000" stroke="#000" stroke-width="0.15" textLength="32.5" lengthAdjust="spacingAndGlyphs">6.85960</text>
<rect x="1656" y="425" width="3" height="1" fill="#000"/>
<text x="1661" y="428.7" font-family="Liberation Sans, sans-serif" font-size="10.2" fill="#000" stroke="#000" stroke-width="0.15" textLength="32.5" lengthAdjust="spacingAndGlyphs">6.82635</text>
<rect x="1656" y="458" width="3" height="1" fill="#000"/>
<text x="1661" y="461.7" font-family="Liberation Sans, sans-serif" font-size="10.2" fill="#000" stroke="#000" stroke-width="0.15" textLength="32.5" lengthAdjust="spacingAndGlyphs">6.79405</text>
<rect x="1656" y="491" width="3" height="1" fill="#000"/>
<text x="1661" y="494.7" font-family="Liberation Sans, sans-serif" font-size="10.2" fill="#000" stroke="#000" stroke-width="0.15" textLength="32.5" lengthAdjust="spacingAndGlyphs">6.76175</text>
<rect x="1656" y="524" width="3" height="1" fill="#000"/>
<text x="1661" y="527.7" font-family="Liberation Sans, sans-serif" font-size="10.2" fill="#000" stroke="#000" stroke-width="0.15" textLength="32.5" lengthAdjust="spacingAndGlyphs">6.72945</text>
<rect x="1656" y="557" width="3" height="1" fill="#000"/>
<text x="1661" y="560.7" font-family="Liberation Sans, sans-serif" font-size="10.2" fill="#000" stroke="#000" stroke-width="0.15" textLength="32.5" lengthAdjust="spacingAndGlyphs">6.69715</text>
<rect x="1656" y="590" width="3" height="1" fill="#000"/>
<text x="1661" y="593.7" font-family="Liberation Sans, sans-serif" font-size="10.2" fill="#000" stroke="#000" stroke-width="0.15" textLength="32.5" lengthAdjust="spacingAndGlyphs">6.66485</text>
<rect x="1657" y="39" width="39" height="11" fill="#ff0000"/>
<text x="1661" y="48.1" font-family="Liberation Sans, sans-serif" font-size="10.2" fill="#fff" stroke="#fff" stroke-width="0.15" textLength="32.5" lengthAdjust="spacingAndGlyphs">7.20018</text>
<rect x="1657" y="141" width="39" height="11" fill="#ff0000"/>
<text x="1661" y="150.1" font-family="Liberation Sans, sans-serif" font-size="10.2" fill="#fff" stroke="#fff" stroke-width="0.15" textLength="32.5" lengthAdjust="spacingAndGlyphs">7.10009</text>
<rect x="1657" y="200" width="39" height="11" fill="#000000"/>
<text x="1661" y="209.1" font-family="Liberation Sans, sans-serif" font-size="10.2" fill="#fff" stroke="#fff" stroke-width="0.15" textLength="32.5" lengthAdjust="spacingAndGlyphs">7.04281</text>
<rect x="1657" y="243" width="39" height="11" fill="#00ff00"/>
<text x="1661" y="252.1" font-family="Liberation Sans, sans-serif" font-size="10.2" fill="#fff" stroke="#fff" stroke-width="0.15" textLength="32.5" lengthAdjust="spacingAndGlyphs">7.00019</text>
<rect x="1657" y="354" width="39" height="11" fill="#0000ff"/>
<text x="1661" y="363.1" font-family="Liberation Sans, sans-serif" font-size="10.2" fill="#fff" stroke="#fff" stroke-width="0.15" textLength="32.5" lengthAdjust="spacingAndGlyphs">6.89093</text>
<rect x="1657" y="425" width="39" height="11" fill="#0000ff"/>
<text x="1661" y="434.1" font-family="Liberation Sans, sans-serif" font-size="10.2" fill="#fff" stroke="#fff" stroke-width="0.15" textLength="32.5" lengthAdjust="spacingAndGlyphs">6.82121</text>
<g clip-path="url(#cr)">
<line x1="4" y1="627.5" x2="1655" y2="627.5" stroke="#c0c0c0" stroke-width="1" stroke-dasharray="3,3"/>
<line x1="4" y1="668.5" x2="1655" y2="668.5" stroke="#c0c0c0" stroke-width="1" stroke-dasharray="3,3"/>
<polyline points="4.5,661.5 12.5,651.7 20.5,649.1 28.5,644.8 36.5,642.8 44.5,639.1 52.5,642.8 60.5,642.2 68.5,642.6 76.5,645.4 84.5,640.1 92.5,644.2 100.5,631.4 108.5,629.7 116.5,628.0 124.5,622.4 132.5,621.2 140.5,614.4 148.5,618.6 156.5,618.5 164.5,616.1 172.5,615.1 180.5,618.8 188.5,620.7 196.5,619.9 204.5,623.4 212.5,628.3 220.5,630.6 228.5,628.4 236.5,626.7 244.5,625.7 252.5,627.5 260.5,633.7 268.5,632.3 276.5,631.4 284.5,631.2 292.5,627.6 300.5,627.4 308.5,636.8 316.5,635.9 324.5,635.1 332.5,633.9 340.5,636.0 348.5,650.8 356.5,651.5 364.5,660.9 372.5,659.3 380.5,654.9 388.5,651.3 396.5,651.6 404.5,655.7 412.5,656.3 420.5,659.9 428.5,649.9 436.5,650.3 444.5,652.6 452.5,645.1 460.5,647.2 468.5,646.2 476.5,653.2 484.5,651.6 492.5,650.4 500.5,652.2 508.5,648.9 516.5,650.5 524.5,652.1 532.5,648.4 540.5,647.9 548.5,647.5 556.5,652.2 564.5,653.2 572.5,648.3 580.5,643.9 588.5,643.4 596.5,635.4 604.5,620.9 612.5,620.0 620.5,608.1 628.5,628.2 636.5,625.3 644.5,625.7 652.5,624.7 660.5,624.3 668.5,641.1 676.5,637.4 684.5,637.7 692.5,637.9 700.5,634.5 708.5,634.7 716.5,636.0 724.5,632.8 732.5,627.6 740.5,624.6 748.5,625.3 756.5,625.0 764.5,631.4 772.5,629.0 780.5,626.0 788.5,629.9 796.5,637.0 804.5,638.1 812.5,645.4 820.5,643.0 828.5,644.7 836.5,648.3 844.5,653.4 852.5,656.4 860.5,652.1 868.5,648.2 876.5,647.6 884.5,645.2 892.5,642.3 900.5,644.1 908.5,644.5 916.5,640.6 924.5,640.9 932.5,636.5 940.5,637.9 948.5,636.9 956.5,637.3 964.5,642.8 972.5,648.3 980.5,642.3 988.5,636.8 996.5,637.6 1004.5,650.9 1012.5,656.0 1020.5,656.9 1028.5,653.2 1036.5,649.6 1044.5,653.9 1052.5,655.1 1060.5,655.7 1068.5,654.8 1076.5,657.0 1084.5,654.0 1092.5,658.7 1100.5,655.1 1108.5,654.8 1116.5,659.1 1124.5,659.1 1132.5,660.2 1140.5,663.7 1148.5,668.0 1156.5,663.8 1164.5,670.6 1172.5,664.8 1180.5,659.5 1188.5,655.4 1196.5,653.5 1204.5,656.1 1212.5,658.9 1220.5,652.7 1228.5,650.2 1236.5,646.3 1244.5,650.4 1252.5,647.2 1260.5,650.8 1268.5,654.2 1276.5,651.0 1284.5,650.1 1292.5,649.2 1300.5,646.2 1308.5,645.6" fill="none" stroke="#1e90ff" stroke-width="1"/>
</g>
<text x="8" y="608" font-family="Liberation Sans, sans-serif" font-size="9.6" fill="#000" stroke="#000" stroke-width="0.15" textLength="67.9" lengthAdjust="spacingAndGlyphs">RSI(14) 52.2436</text>
<rect x="1656" y="597" width="2" height="1" fill="#000"/>
<text x="1659.2" y="606" font-family="Liberation Sans, sans-serif" font-size="9.6" fill="#000" stroke="#000" stroke-width="0.15">100</text>
<rect x="1655" y="627" width="1" height="1" fill="#ffffff"/>
<text x="1658.3" y="630.8" font-family="Liberation Sans, sans-serif" font-size="9.6" fill="#000" stroke="#000" stroke-width="0.15">70</text>
<rect x="1655" y="668" width="1" height="1" fill="#ffffff"/>
<text x="1658.1" y="672" font-family="Liberation Sans, sans-serif" font-size="9.6" fill="#000" stroke="#000" stroke-width="0.15">30</text>
<rect x="1656" y="698" width="2" height="1" fill="#000"/>
<text x="1659.2" y="696" font-family="Liberation Sans, sans-serif" font-size="9.6" fill="#000" stroke="#000" stroke-width="0.15">0</text>
<g clip-path="url(#cd)">
<rect x="4" y="769" width="1" height="8" fill="#c0c0c0"/>
<rect x="12" y="769" width="1" height="8" fill="#c0c0c0"/>
<rect x="20" y="769" width="1" height="7" fill="#c0c0c0"/>
<rect x="28" y="769" width="1" height="5" fill="#c0c0c0"/>
<rect x="36" y="769" width="1" height="3" fill="#c0c0c0"/>
<rect x="44" y="768" width="1" height="2" fill="#c0c0c0"/>
<rect x="52" y="767" width="1" height="3" fill="#c0c0c0"/>
<rect x="60" y="766" width="1" height="4" fill="#c0c0c0"/>
<rect x="68" y="765" width="1" height="5" fill="#c0c0c0"/>
<rect x="76" y="765" width="1" height="5" fill="#c0c0c0"/>
<rect x="84" y="764" width="1" height="6" fill="#c0c0c0"/>
<rect x="92" y="764" width="1" height="6" fill="#c0c0c0"/>
<rect x="100" y="760" width="1" height="10" fill="#c0c0c0"/>
<rect x="108" y="756" width="1" height="14" fill="#c0c0c0"/>
<rect x="116" y="752" width="1" height="18" fill="#c0c0c0"/>
<rect x="124" y="746" width="1" height="24" fill="#c0c0c0"/>
<rect x="132" y="741" width="1" height="29" fill="#c0c0c0"/>
<rect x="140" y="731" width="1" height="39" fill="#c0c0c0"/>
<rect x="148" y="725" width="1" height="45" fill="#c0c0c0"/>
<rect x="156" y="721" width="1" height="49" fill="#c0c0c0"/>
<rect x="164" y="716" width="1" height="54" fill="#c0c0c0"/>
<rect x="172" y="711" width="1" height="59" fill="#c0c0c0"/>
<rect x="180" y="710" width="1" height="60" fill="#c0c0c0"/>
<rect x="188" y="709" width="1" height="61" fill="#c0c0c0"/>
<rect x="196" y="709" width="1" height="61" fill="#c0c0c0"/>
<rect x="204" y="710" width="1" height="60" fill="#c0c0c0"/>
<rect x="212" y="713" width="1" height="57" fill="#c0c0c0"/>
<rect x="220" y="716" width="1" height="54" fill="#c0c0c0"/>
<rect x="228" y="719" width="1" height="51" fill="#c0c0c0"/>
<rect x="236" y="720" width="1" height="50" fill="#c0c0c0"/>
<rect x="244" y="721" width="1" height="49" fill="#c0c0c0"/>
<rect x="252" y="723" width="1" height="47" fill="#c0c0c0"/>
<rect x="260" y="726" width="1" height="44" fill="#c0c0c0"/>
<rect x="268" y="729" width="1" height="41" fill="#c0c0c0"/>
<rect x="276" y="731" width="1" height="39" fill="#c0c0c0"/>
<rect x="284" y="733" width="1" height="37" fill="#c0c0c0"/>
<rect x="292" y="734" width="1" height="36" fill="#c0c0c0"/>
<rect x="300" y="734" width="1" height="36" fill="#c0c0c0"/>
<rect x="308" y="737" width="1" height="33" fill="#c0c0c0"/>
<rect x="316" y="739" width="1" height="31" fill="#c0c0c0"/>
<rect x="324" y="741" width="1" height="29" fill="#c0c0c0"/>
<rect x="332" y="743" width="1" height="27" fill="#c0c0c0"/>
<rect x="340" y="744" width="1" height="26" fill="#c0c0c0"/>
<rect x="348" y="749" width="1" height="21" fill="#c0c0c0"/>
<rect x="356" y="753" width="1" height="17" fill="#c0c0c0"/>
<rect x="364" y="760" width="1" height="10" fill="#c0c0c0"/>
<rect x="372" y="764" width="1" height="6" fill="#c0c0c0"/>
<rect x="380" y="767" width="1" height="3" fill="#c0c0c0"/>
<rect x="388" y="768" width="1" height="2" fill="#c0c0c0"/>
<rect x="396" y="769" width="1" height="2" fill="#c0c0c0"/>
<rect x="404" y="769" width="1" height="4" fill="#c0c0c0"/>
<rect x="412" y="769" width="1" height="5" fill="#c0c0c0"/>
<rect x="420" y="769" width="1" height="8" fill="#c0c0c0"/>
<rect x="428" y="769" width="1" height="7" fill="#c0c0c0"/>
<rect x="436" y="769" width="1" height="7" fill="#c0c0c0"/>
<rect x="444" y="769" width="1" height="7" fill="#c0c0c0"/>
<rect x="452" y="769" width="1" height="6" fill="#c0c0c0"/>
<rect x="460" y="769" width="1" height="5" fill="#c0c0c0"/>
<rect x="468" y="769" width="1" height="4" fill="#c0c0c0"/>
<rect x="476" y="769" width="1" height="5" fill="#c0c0c0"/>
<rect x="484" y="769" width="1" height="5" fill="#c0c0c0"/>
<rect x="492" y="769" width="1" height="5" fill="#c0c0c0"/>
<rect x="500" y="769" width="1" height="6" fill="#c0c0c0"/>
<rect x="508" y="769" width="1" height="5" fill="#c0c0c0"/>
<rect x="516" y="769" width="1" height="5" fill="#c0c0c0"/>
<rect x="524" y="769" width="1" height="5" fill="#c0c0c0"/>
<rect x="532" y="769" width="1" height="5" fill="#c0c0c0"/>
<rect x="540" y="769" width="1" height="4" fill="#c0c0c0"/>
<rect x="548" y="769" width="1" height="4" fill="#c0c0c0"/>
<rect x="556" y="769" width="1" height="4" fill="#c0c0c0"/>
<rect x="564" y="769" width="1" height="5" fill="#c0c0c0"/>
<rect x="572" y="769" width="1" height="4" fill="#c0c0c0"/>
<rect x="580" y="769" width="1" height="3" fill="#c0c0c0"/>
<rect x="588" y="769" width="1" height="2" fill="#c0c0c0"/>
<rect x="596" y="768" width="1" height="2" fill="#c0c0c0"/>
<rect x="604" y="761" width="1" height="9" fill="#c0c0c0"/>
<rect x="612" y="755" width="1" height="15" fill="#c0c0c0"/>
<rect x="620" y="737" width="1" height="33" fill="#c0c0c0"/>
<rect x="628" y="730" width="1" height="40" fill="#c0c0c0"/>
<rect x="636" y="722" width="1" height="48" fill="#c0c0c0"/>
<rect x="644" y="717" width="1" height="53" fill="#c0c0c0"/>
<rect x="652" y="712" width="1" height="58" fill="#c0c0c0"/>
<rect x="660" y="709" width="1" height="61" fill="#c0c0c0"/>
<rect x="668" y="714" width="1" height="56" fill="#c0c0c0"/>
<rect x="676" y="716" width="1" height="54" fill="#c0c0c0"/>
<rect x="684" y="718" width="1" height="52" fill="#c0c0c0"/>
<rect x="692" y="721" width="1" height="49" fill="#c0c0c0"/>
<rect x="700" y="721" width="1" height="49" fill="#c0c0c0"/>
<rect x="708" y="722" width="1" height="48" fill="#c0c0c0"/>
<rect x="716" y="723" width="1" height="47" fill="#c0c0c0"/>
<rect x="724" y="723" width="1" height="47" fill="#c0c0c0"/>
<rect x="732" y="719" width="1" height="51" fill="#c0c0c0"/>
<rect x="740" y="714" width="1" height="56" fill="#c0c0c0"/>
<rect x="748" y="711" width="1" height="59" fill="#c0c0c0"/>
<rect x="756" y="709" width="1" height="61" fill="#c0c0c0"/>
<rect x="764" y="710" width="1" height="60" fill="#c0c0c0"/>
<rect x="772" y="710" width="1" height="60" fill="#c0c0c0"/>
<rect x="780" y="708" width="1" height="62" fill="#c0c0c0"/>
<rect x="788" y="709" width="1" height="61" fill="#c0c0c0"/>
<rect x="796" y="713" width="1" height="57" fill="#c0c0c0"/>
<rect x="804" y="717" width="1" height="53" fill="#c0c0c0"/>
<rect x="812" y="724" width="1" height="46" fill="#c0c0c0"/>
<rect x="820" y="729" width="1" height="41" fill="#c0c0c0"/>
<rect x="828" y="734" width="1" height="36" fill="#c0c0c0"/>
<rect x="836" y="740" width="1" height="30" fill="#c0c0c0"/>
<rect x="844" y="747" width="1" height="23" fill="#c0c0c0"/>
<rect x="852" y="755" width="1" height="15" fill="#c0c0c0"/>
<rect x="860" y="759" width="1" height="11" fill="#c0c0c0"/>
<rect x="868" y="761" width="1" height="9" fill="#c0c0c0"/>
<rect x="876" y="762" width="1" height="8" fill="#c0c0c0"/>
<rect x="884" y="762" width="1" height="8" fill="#c0c0c0"/>
<rect x="892" y="761" width="1" height="9" fill="#c0c0c0"/>
<rect x="900" y="761" width="1" height="9" fill="#c0c0c0"/>
<rect x="908" y="761" width="1" height="9" fill="#c0c0c0"/>
<rect x="916" y="759" width="1" height="11" fill="#c0c0c0"/>
<rect x="924" y="758" width="1" height="12" fill="#c0c0c0"/>
<rect x="932" y="756" width="1" height="14" fill="#c0c0c0"/>
<rect x="940" y="754" width="1" height="16" fill="#c0c0c0"/>
<rect x="948" y="753" width="1" height="17" fill="#c0c0c0"/>
<rect x="956" y="752" width="1" height="18" fill="#c0c0c0"/>
<rect x="964" y="753" width="1" height="17" fill="#c0c0c0"/>
<rect x="972" y="756" width="1" height="14" fill="#c0c0c0"/>
<rect x="980" y="756" width="1" height="14" fill="#c0c0c0"/>
<rect x="988" y="754" width="1" height="16" fill="#c0c0c0"/>
<rect x="996" y="753" width="1" height="17" fill="#c0c0c0"/>
<rect x="1004" y="757" width="1" height="13" fill="#c0c0c0"/>
<rect x="1012" y="762" width="1" height="8" fill="#c0c0c0"/>
<rect x="1020" y="767" width="1" height="3" fill="#c0c0c0"/>
<rect x="1028" y="769" width="1" height="2" fill="#c0c0c0"/>
<rect x="1036" y="769" width="1" height="2" fill="#c0c0c0"/>
<rect x="1044" y="769" width="1" height="5" fill="#c0c0c0"/>
<rect x="1052" y="769" width="1" height="7" fill="#c0c0c0"/>
<rect x="1060" y="769" width="1" height="9" fill="#c0c0c0"/>
<rect x="1068" y="769" width="1" height="10" fill="#c0c0c0"/>
<rect x="1076" y="769" width="1" height="12" fill="#c0c0c0"/>
<rect x="1084" y="769" width="1" height="13" fill="#c0c0c0"/>
<rect x="1092" y="769" width="1" height="15" fill="#c0c0c0"/>
<rect x="1100" y="769" width="1" height="15" fill="#c0c0c0"/>
<rect x="1108" y="769" width="1" height="15" fill="#c0c0c0"/>
<rect x="1116" y="769" width="1" height="17" fill="#c0c0c0"/>
<rect x="1124" y="769" width="1" height="18" fill="#c0c0c0"/>
<rect x="1132" y="769" width="1" height="19" fill="#c0c0c0"/>
<rect x="1140" y="769" width="1" height="21" fill="#c0c0c0"/>
<rect x="1148" y="769" width="1" height="24" fill="#c0c0c0"/>
<rect x="1156" y="769" width="1" height="26" fill="#c0c0c0"/>
<rect x="1164" y="769" width="1" height="30" fill="#c0c0c0"/>
<rect x="1172" y="769" width="1" height="31" fill="#c0c0c0"/>
<rect x="1180" y="769" width="1" height="31" fill="#c0c0c0"/>
<rect x="1188" y="769" width="1" height="29" fill="#c0c0c0"/>
<rect x="1196" y="769" width="1" height="27" fill="#c0c0c0"/>
<rect x="1204" y="769" width="1" height="25" fill="#c0c0c0"/>
<rect x="1212" y="769" width="1" height="25" fill="#c0c0c0"/>
<rect x="1220" y="769" width="1" height="23" fill="#c0c0c0"/>
<rect x="1228" y="769" width="1" height="20" fill="#c0c0c0"/>
<rect x="1236" y="769" width="1" height="17" fill="#c0c0c0"/>
<rect x="1244" y="769" width="1" height="15" fill="#c0c0c0"/>
<rect x="1252" y="769" width="1" height="13" fill="#c0c0c0"/>
<rect x="1260" y="769" width="1" height="12" fill="#c0c0c0"/>
<rect x="1268" y="769" width="1" height="12" fill="#c0c0c0"/>
<rect x="1276" y="769" width="1" height="12" fill="#c0c0c0"/>
<rect x="1284" y="769" width="1" height="11" fill="#c0c0c0"/>
<rect x="1292" y="769" width="1" height="10" fill="#c0c0c0"/>
<rect x="1300" y="769" width="1" height="8" fill="#c0c0c0"/>
<rect x="1308" y="769" width="1" height="6" fill="#c0c0c0"/>
<polyline points="4.5,773.2 12.5,773.5 20.5,773.6 28.5,773.6 36.5,773.3 44.5,772.7 52.5,772.0 60.5,771.1 68.5,770.2 76.5,769.0 84.5,767.6 92.5,766.4 100.5,764.8 108.5,763.1 116.5,761.3 124.5,758.9 132.5,756.1 140.5,752.4 148.5,748.0 156.5,743.2 164.5,737.8 172.5,732.5 180.5,727.4 188.5,722.7 196.5,718.5 204.5,715.1 212.5,713.1 220.5,712.1 228.5,711.9 236.5,712.3 244.5,713.4 252.5,714.9 260.5,716.8 268.5,719.1 276.5,721.4 284.5,723.6 292.5,725.5 300.5,727.2 308.5,729.1 316.5,731.2 324.5,733.2 332.5,735.0 340.5,736.7 348.5,738.8 356.5,741.0 364.5,743.9 372.5,747.2 380.5,750.6 388.5,753.8 396.5,756.9 404.5,760.1 412.5,763.3 420.5,766.3 428.5,768.7 436.5,770.4 444.5,771.6 452.5,772.4 460.5,772.9 468.5,773.2 476.5,773.3 484.5,773.3 492.5,773.0 500.5,772.9 508.5,772.7 516.5,772.5 524.5,772.4 532.5,772.4 540.5,772.5 548.5,772.4 556.5,772.3 564.5,772.2 572.5,772.0 580.5,771.8 588.5,771.5 596.5,770.8 604.5,769.5 612.5,767.5 620.5,763.5 628.5,758.8 636.5,753.2 644.5,747.0 652.5,740.4 660.5,733.5 668.5,727.6 676.5,722.6 684.5,718.6 692.5,716.8 700.5,715.8 708.5,715.8 716.5,716.6 724.5,717.8 732.5,719.0 740.5,719.0 748.5,718.5 756.5,717.5 764.5,716.3 772.5,715.1 780.5,713.7 788.5,712.1 796.5,710.9 804.5,710.7 812.5,711.7 820.5,713.7 828.5,716.4 836.5,719.7 844.5,723.8 852.5,728.9 860.5,734.5 868.5,739.9 876.5,744.9 884.5,749.2 892.5,752.8 900.5,755.8 908.5,758.2 916.5,759.5 924.5,759.9 932.5,759.5 940.5,758.7 948.5,757.6 956.5,756.5 964.5,755.6 972.5,755.0 980.5,754.5 988.5,753.9 996.5,753.2 1004.5,753.3 1012.5,754.2 1020.5,755.8 1028.5,757.8 1036.5,759.8 1044.5,761.6 1052.5,763.8 1060.5,766.4 1068.5,769.3 1076.5,771.9 1084.5,773.9 1092.5,775.6 1100.5,777.1 1108.5,778.5 1116.5,779.9 1124.5,781.0 1132.5,782.1 1140.5,783.3 1148.5,784.6 1156.5,786.0 1164.5,787.7 1172.5,789.5 1180.5,791.3 1188.5,792.7 1196.5,793.6 1204.5,794.4 1212.5,794.9 1220.5,794.8 1228.5,794.2 1236.5,792.8 1244.5,791.0 1252.5,788.9 1260.5,787.1 1268.5,785.5 1276.5,783.9 1284.5,782.3 1292.5,780.8 1300.5,779.4 1308.5,778.2" fill="none" stroke="#ff0000" stroke-width="1" stroke-dasharray="3,3" shape-rendering="crispEdges"/>
</g>
<text x="8.5" y="714" font-family="Liberation Sans, sans-serif" font-size="9.6" fill="#000" stroke="#000" stroke-width="0.15" textLength="153.4" lengthAdjust="spacingAndGlyphs">MACD(12,26,9) -0.004193 -0.008575</text>
<rect x="1656" y="703" width="2" height="1" fill="#000"/>
<text x="1659" y="711.8" font-family="Liberation Sans, sans-serif" font-size="9.6" fill="#000" stroke="#000" stroke-width="0.15">0.060273</text>
<rect x="1656" y="769" width="2" height="1" fill="#000"/>
<text x="1659" y="772.5" font-family="Liberation Sans, sans-serif" font-size="9.6" fill="#000" stroke="#000" stroke-width="0.15">0.00</text>
<rect x="1656" y="804" width="2" height="1" fill="#000"/>
<text x="1659" y="802.3" font-family="Liberation Sans, sans-serif" font-size="9.6" fill="#000" stroke="#000" stroke-width="0.15">-0.031725</text>
<path d="M4 799 L4 805 L9 805 Z" fill="#c0c0c0" shape-rendering="geometricPrecision"/>
<rect x="4" y="806" width="1" height="3" fill="#000"/>
<text x="3.4" y="817.6" font-family="Liberation Sans, sans-serif" font-size="10" fill="#000" stroke="#000" stroke-width="0.15" textLength="49.4" lengthAdjust="spacingAndGlyphs">17 Apr 2019</text>
<rect x="68" y="806" width="1" height="3" fill="#000"/>
<text x="67.4" y="817.6" font-family="Liberation Sans, sans-serif" font-size="10" fill="#000" stroke="#000" stroke-width="0.15" textLength="49.4" lengthAdjust="spacingAndGlyphs">30 Apr 2019</text>
<rect x="132" y="806" width="1" height="3" fill="#000"/>
<text x="131.4" y="817.6" font-family="Liberation Sans, sans-serif" font-size="10" fill="#000" stroke="#000" stroke-width="0.15" textLength="53.0" lengthAdjust="spacingAndGlyphs">10 May 2019</text>
<rect x="196" y="806" width="1" height="3" fill="#000"/>
<text x="195.4" y="817.6" font-family="Liberation Sans, sans-serif" font-size="10" fill="#000" stroke="#000" stroke-width="0.15" textLength="53.0" lengthAdjust="spacingAndGlyphs">22 May 2019</text>
<rect x="260" y="806" width="1" height="3" fill="#000"/>
<text x="259.4" y="817.6" font-family="Liberation Sans, sans-serif" font-size="10" fill="#000" stroke="#000" stroke-width="0.15" textLength="45.4" lengthAdjust="spacingAndGlyphs">3 Jun 2019</text>
<rect x="324" y="806" width="1" height="3" fill="#000"/>
<text x="323.4" y="817.6" font-family="Liberation Sans, sans-serif" font-size="10" fill="#000" stroke="#000" stroke-width="0.15" textLength="50.5" lengthAdjust="spacingAndGlyphs">13 Jun 2019</text>
<rect x="388" y="806" width="1" height="3" fill="#000"/>
<text x="387.4" y="817.6" font-family="Liberation Sans, sans-serif" font-size="10" fill="#000" stroke="#000" stroke-width="0.15" textLength="50.5" lengthAdjust="spacingAndGlyphs">25 Jun 2019</text>
<rect x="452" y="806" width="1" height="3" fill="#000"/>
<text x="451.4" y="817.6" font-family="Liberation Sans, sans-serif" font-size="10" fill="#000" stroke="#000" stroke-width="0.15" textLength="42.3" lengthAdjust="spacingAndGlyphs">5 Jul 2019</text>
<rect x="516" y="806" width="1" height="3" fill="#000"/>
<text x="515.4" y="817.6" font-family="Liberation Sans, sans-serif" font-size="10" fill="#000" stroke="#000" stroke-width="0.15" textLength="47.4" lengthAdjust="spacingAndGlyphs">17 Jul 2019</text>
<rect x="580" y="806" width="1" height="3" fill="#000"/>
<text x="579.4" y="817.6" font-family="Liberation Sans, sans-serif" font-size="10" fill="#000" stroke="#000" stroke-width="0.15" textLength="47.4" lengthAdjust="spacingAndGlyphs">29 Jul 2019</text>
<rect x="644" y="806" width="1" height="3" fill="#000"/>
<text x="643.4" y="817.6" font-family="Liberation Sans, sans-serif" font-size="10" fill="#000" stroke="#000" stroke-width="0.15" textLength="46.4" lengthAdjust="spacingAndGlyphs">8 Aug 2019</text>
<rect x="708" y="806" width="1" height="3" fill="#000"/>
<text x="707.4" y="817.6" font-family="Liberation Sans, sans-serif" font-size="10" fill="#000" stroke="#000" stroke-width="0.15" textLength="51.5" lengthAdjust="spacingAndGlyphs">20 Aug 2019</text>
<rect x="772" y="806" width="1" height="3" fill="#000"/>
<text x="771.4" y="817.6" font-family="Liberation Sans, sans-serif" font-size="10" fill="#000" stroke="#000" stroke-width="0.15" textLength="51.5" lengthAdjust="spacingAndGlyphs">30 Aug 2019</text>
<rect x="836" y="806" width="1" height="3" fill="#000"/>
<text x="835.4" y="817.6" font-family="Liberation Sans, sans-serif" font-size="10" fill="#000" stroke="#000" stroke-width="0.15" textLength="51.3" lengthAdjust="spacingAndGlyphs">11 Sep 2019</text>
<rect x="900" y="806" width="1" height="3" fill="#000"/>
<text x="899.4" y="817.6" font-family="Liberation Sans, sans-serif" font-size="10" fill="#000" stroke="#000" stroke-width="0.15" textLength="52.0" lengthAdjust="spacingAndGlyphs">23 Sep 2019</text>
<rect x="964" y="806" width="1" height="3" fill="#000"/>
<text x="963.4" y="817.6" font-family="Liberation Sans, sans-serif" font-size="10" fill="#000" stroke="#000" stroke-width="0.15" textLength="44.8" lengthAdjust="spacingAndGlyphs">3 Oct 2019</text>
<rect x="1028" y="806" width="1" height="3" fill="#000"/>
<text x="1027.4" y="817.6" font-family="Liberation Sans, sans-serif" font-size="10" fill="#000" stroke="#000" stroke-width="0.15" textLength="49.9" lengthAdjust="spacingAndGlyphs">15 Oct 2019</text>
<rect x="1092" y="806" width="1" height="3" fill="#000"/>
<text x="1091.4" y="817.6" font-family="Liberation Sans, sans-serif" font-size="10" fill="#000" stroke="#000" stroke-width="0.15" textLength="49.9" lengthAdjust="spacingAndGlyphs">25 Oct 2019</text>
<rect x="1156" y="806" width="1" height="3" fill="#000"/>
<text x="1155.4" y="817.6" font-family="Liberation Sans, sans-serif" font-size="10" fill="#000" stroke="#000" stroke-width="0.15" textLength="46.9" lengthAdjust="spacingAndGlyphs">6 Nov 2019</text>
<rect x="1220" y="806" width="1" height="3" fill="#000"/>
<text x="1219.4" y="817.6" font-family="Liberation Sans, sans-serif" font-size="10" fill="#000" stroke="#000" stroke-width="0.15" textLength="52.0" lengthAdjust="spacingAndGlyphs">18 Nov 2019</text>
<rect x="1284" y="806" width="1" height="3" fill="#000"/>
<text x="1283.4" y="817.6" font-family="Liberation Sans, sans-serif" font-size="10" fill="#000" stroke="#000" stroke-width="0.15" textLength="52.0" lengthAdjust="spacingAndGlyphs">28 Nov 2019</text>
<rect x="1" y="826" width="1695" height="1" fill="#d4d0c8"/>
<rect x="0" y="828" width="1696" height="1" fill="#101010"/>
<rect x="0" y="829" width="1696" height="19" fill="#d4d0c8"/>
<rect x="0" y="829" width="1" height="19" fill="#404040"/>
<text x="16" y="840" font-family="Liberation Mono, monospace" font-size="10.5" fill="#404040" stroke="#404040" stroke-width="0.15" textLength="78" lengthAdjust="spacingAndGlyphs">EURUSD-,Daily</text>
<rect x="105" y="832" width="1" height="13" fill="#404040"/>
<text x="116" y="840" font-family="Liberation Mono, monospace" font-size="10.5" fill="#404040" stroke="#404040" stroke-width="0.15" textLength="78" lengthAdjust="spacingAndGlyphs">AUDUSD-,Daily</text>
<rect x="205" y="832" width="1" height="13" fill="#404040"/>
<text x="216" y="840" font-family="Liberation Mono, monospace" font-size="10.5" fill="#404040" stroke="#404040" stroke-width="0.15" textLength="78" lengthAdjust="spacingAndGlyphs">USDCHF-,Daily</text>
<rect x="305" y="832" width="1" height="13" fill="#404040"/>
<text x="316" y="840" font-family="Liberation Mono, monospace" font-size="10.5" fill="#404040" stroke="#404040" stroke-width="0.15" textLength="78" lengthAdjust="spacingAndGlyphs">USDCAD-,Daily</text>
<rect x="405" y="832" width="1" height="13" fill="#404040"/>
<rect x="405" y="828" width="100" height="18" fill="#ffffff"/>
<rect x="405" y="828" width="1" height="19" fill="#000"/>
<rect x="504" y="828" width="1" height="19" fill="#000"/>
<rect x="405" y="846" width="100" height="1" fill="#000"/>
<rect x="406" y="847" width="99" height="1" fill="#c0c0c0"/>
<rect x="404" y="829" width="1" height="17" fill="#ece9e2"/>
<text x="416" y="840" font-family="Liberation Mono, monospace" font-size="10.5" fill="#000" stroke="#000" stroke-width="0.15" textLength="78" lengthAdjust="spacingAndGlyphs">USDCNH-,Daily</text>
<path d="M1674 834 L1670 837.5 L1674 841 Z" fill="#a0a0a0" shape-rendering="geometricPrecision"/>
<path d="M1690 834 L1694 837.5 L1690 841 Z" fill="#a0a0a0" shape-rendering="geometricPrecision"/>
</svg>
</body></html>
